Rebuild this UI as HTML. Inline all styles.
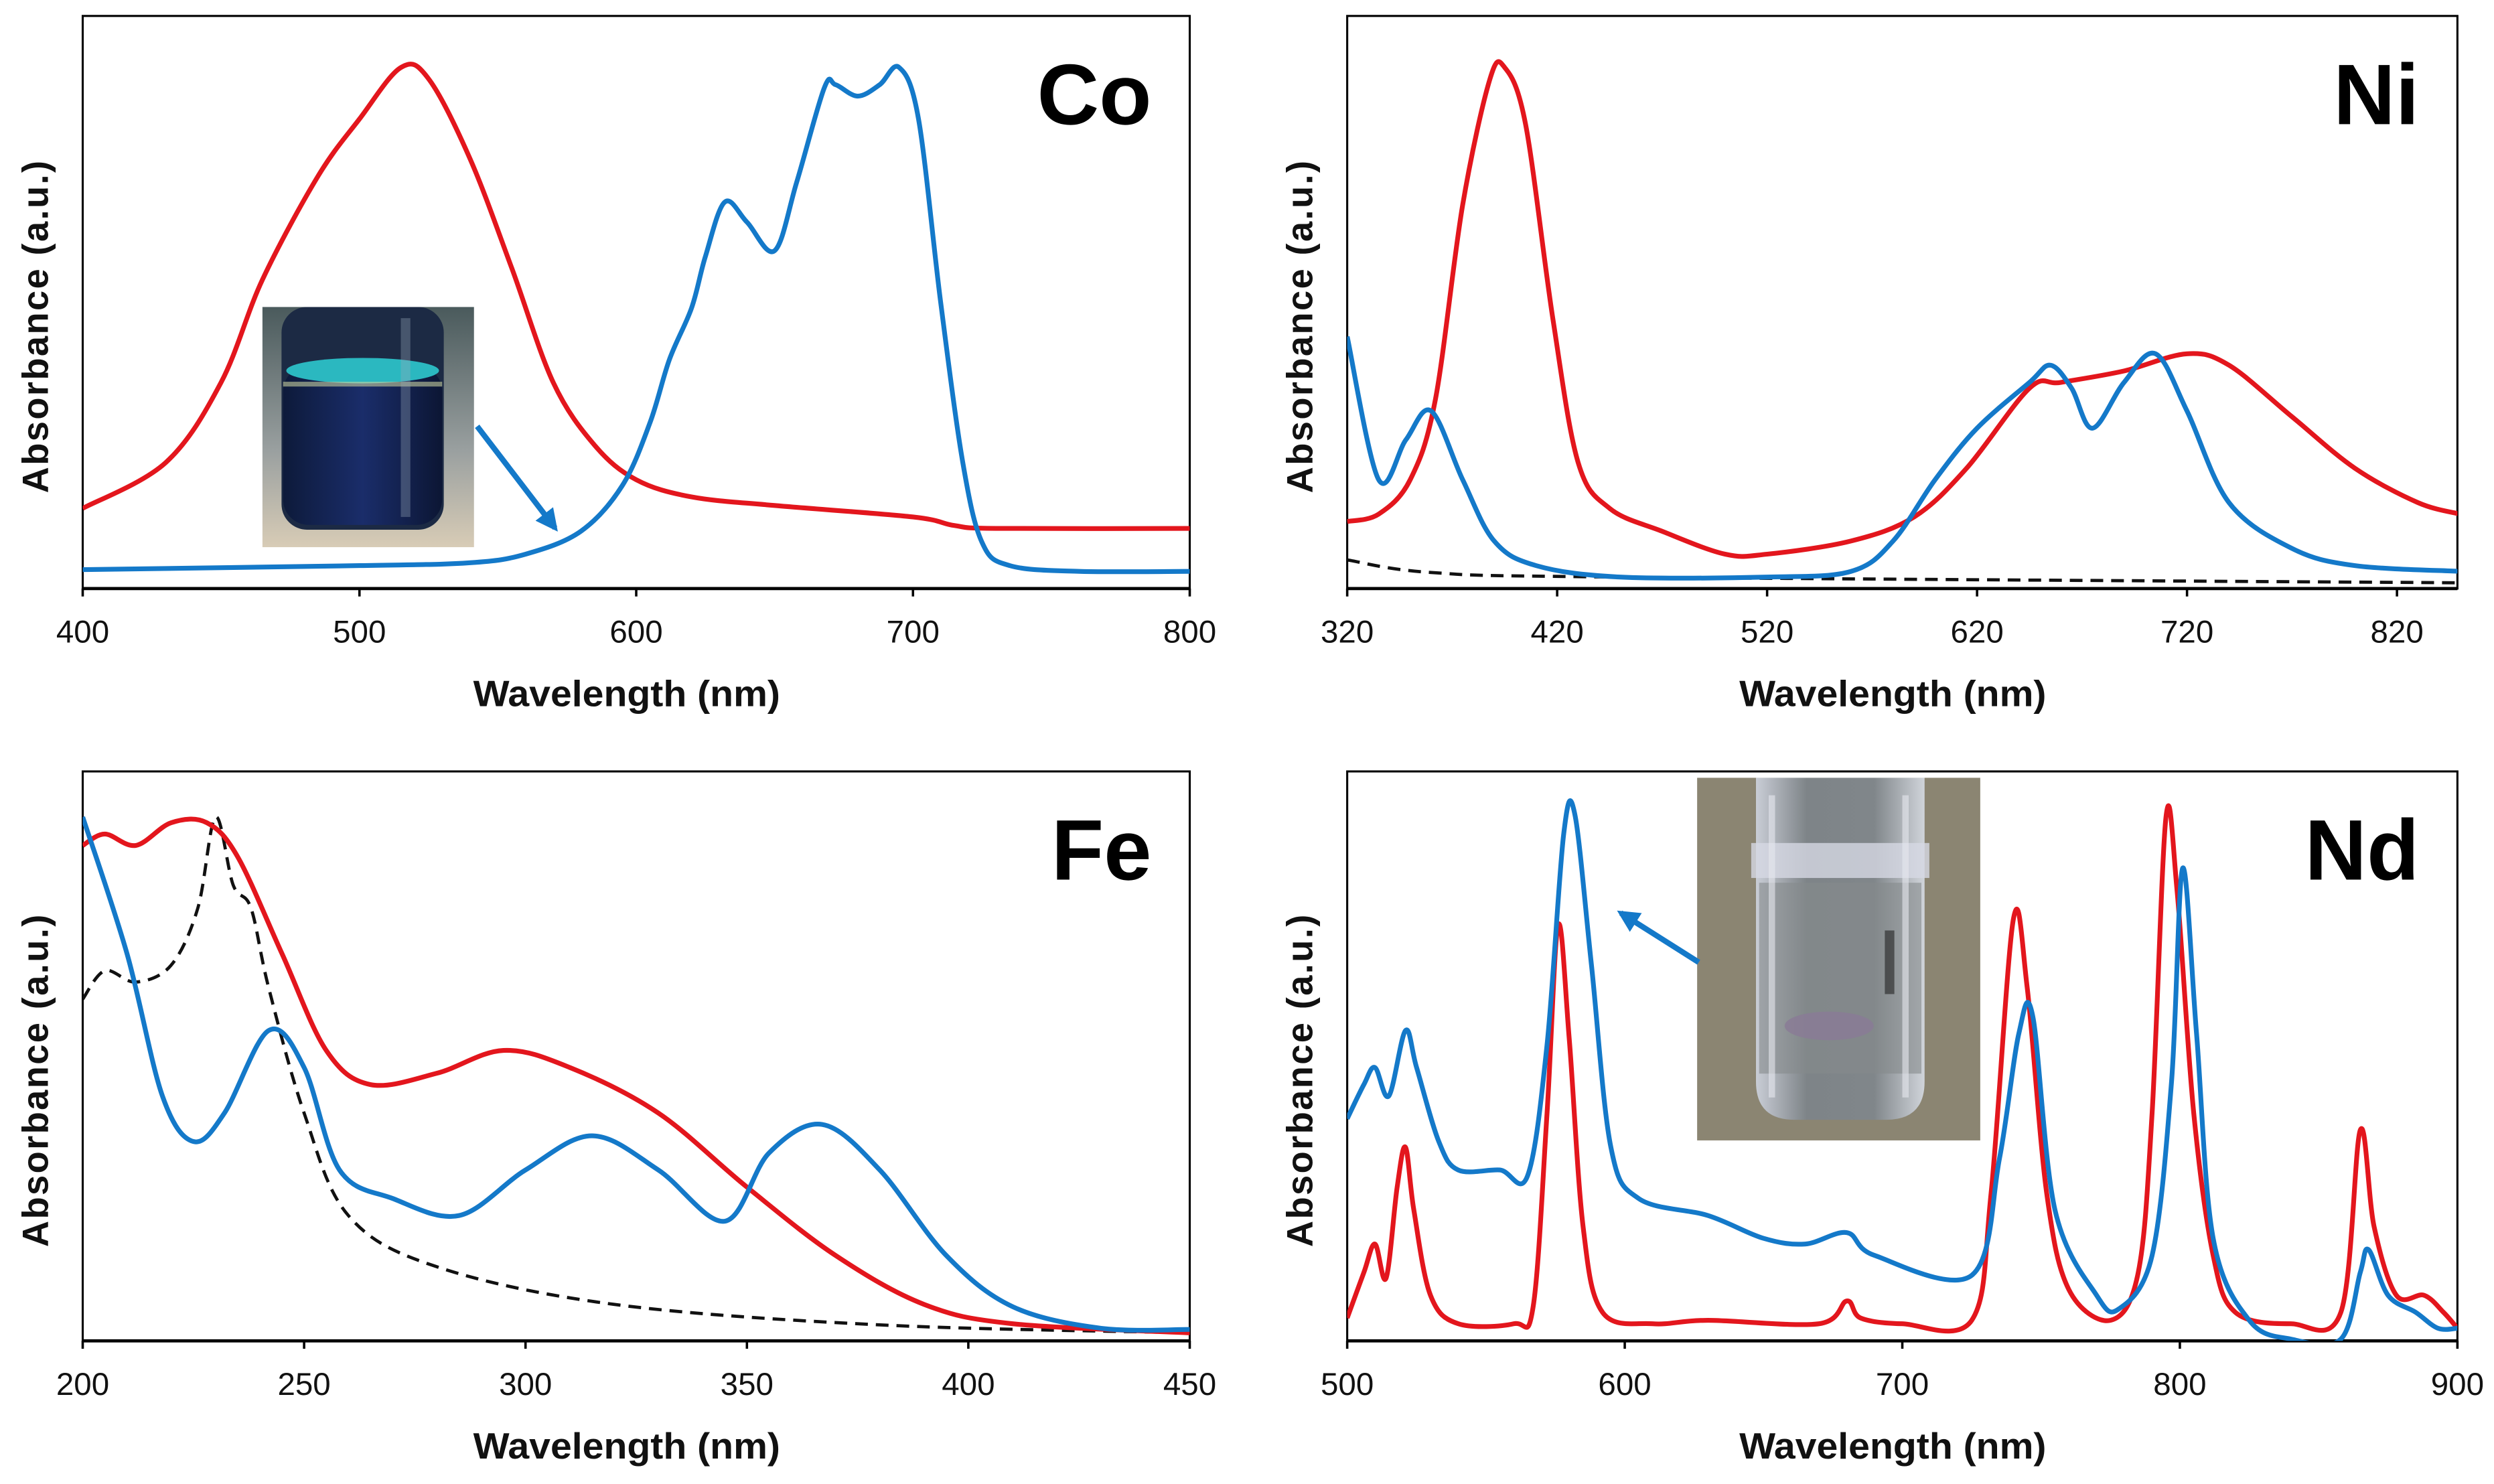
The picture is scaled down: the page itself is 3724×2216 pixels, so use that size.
<!DOCTYPE html>
<html><head><meta charset="utf-8">
<style>
html,body{margin:0;padding:0;background:#fff;}
svg{display:block;}
text{font-family:"Liberation Sans Narrow","Liberation Sans",sans-serif;}
.tick{font-size:20px;fill:#111;}
.ttl{font-size:23px;font-weight:bold;fill:#111;font-family:"Liberation Sans",sans-serif;}
.ytl{font-size:23px;font-weight:bold;fill:#111;font-family:"Liberation Sans",sans-serif;letter-spacing:1px;}
.big{font-size:54px;font-weight:bold;fill:#000;font-family:"Liberation Sans",sans-serif;}
</style></head>
<body>
<svg id="fig" width="3724" height="2216" viewBox="0 0 1568 933" xmlns="http://www.w3.org/2000/svg"></svg>
<script>
// ---- Co panel data ----
const coTicks=[400,500,600,700,800];
const coRedX=[400,430,450,465,485,500,515,525,540,555,570,585,600,620,650,700,715,730,800];
const coRedY=[.14,.22,.36,.54,.72,.82,.91,.89,.75,.56,.36,.25,.19,.16,.145,.125,.11,.105,.105];
const coBlueX=[400,500,540,560,580,595,605,612,620,625,632,640,650,658,668,672,680,688,695,702,710,718,725,735,760,800];
const coBlueY=[.033,.04,.045,.06,.10,.18,.29,.40,.49,.58,.675,.64,.59,.71,.875,.88,.86,.88,.91,.82,.50,.22,.08,.04,.03,.03];
// ---- Ni panel data ----
const niTicks=[320,420,520,620,720,820];
const niRedX=[320,335,350,362,375,388,395,405,418,430,445,470,500,520,560,590,615,645,660,690,720,740,770,800,830,850];
const niRedY=[.117,.13,.19,.33,.67,.89,.91,.81,.47,.22,.14,.10,.06,.06,.083,.125,.21,.35,.36,.38,.41,.39,.30,.21,.15,.13];
const niBlueX=[320,335,348,360,375,390,410,450,520,560,580,600,620,645,655,665,675,690,705,720,740,770,800,850];
const niBlueY=[.44,.19,.26,.31,.19,.083,.04,.02,.02,.03,.083,.19,.28,.36,.39,.35,.28,.36,.41,.31,.15,.07,.04,.03];
const niDashX=[320,360,450,850];
const niDashY=[.05,.028,.02,.01];
// ---- Fe panel data ----
const feTicks=[200,250,300,350,400,450];
const feRedX=[200,205,212,220,228,235,245,255,265,280,295,310,330,350,370,390,410,450];
const feRedY=[.87,.89,.87,.91,.91,.85,.68,.51,.45,.47,.51,.48,.40,.27,.15,.064,.03,.014];
const feBlueX=[200,210,218,225,232,242,250,258,270,285,300,315,330,345,355,367,380,395,410,430,450];
const feBlueY=[.92,.68,.43,.35,.40,.545,.48,.30,.25,.22,.30,.36,.30,.21,.33,.38,.30,.15,.06,.022,.02];
const feDashX=[200,205,212,220,226,230,234,238,242,250,260,280,320,380,450];
const feDashY=[.60,.65,.63,.66,.76,.92,.80,.76,.62,.40,.22,.13,.064,.028,.014];
// ---- Nd panel data ----
const ndTicks=[500,600,700,800,900];
const ndRedX=[500,506,510,514,518,521,524,530,540,560,567,572,576,580,585,592,610,630,670,680,685,700,725,732,740,745,752,760,775,785,790,795,799,805,812,820,840,858,865,870,878,888,895,900];
const ndRedY=[.04,.12,.17,.11,.27,.34,.23,.08,.03,.03,.06,.40,.73,.53,.20,.05,.03,.036,.03,.07,.04,.03,.036,.26,.74,.62,.26,.09,.036,.12,.40,.92,.79,.40,.15,.05,.03,.05,.37,.20,.08,.08,.05,.022];
const ndBlueX=[500,506,510,515,521,525,533,540,555,565,572,578,582,588,595,605,630,650,665,680,690,725,735,742,747,755,770,778,790,797,801,806,812,825,840,858,865,868,875,885,893,900];
const ndBlueY=[.39,.45,.48,.43,.545,.48,.35,.30,.30,.29,.52,.89,.925,.66,.34,.25,.22,.18,.17,.19,.15,.115,.32,.54,.57,.23,.08,.056,.15,.455,.83,.54,.18,.036,.003,.003,.12,.16,.08,.05,.022,.022];

const NS="http://www.w3.org/2000/svg";
const svg=document.getElementById('fig');
function mk(tag,attrs,parent){const e=document.createElementNS(NS,tag);for(const k in attrs)e.setAttribute(k,attrs[k]);(parent||svg).appendChild(e);return e;}
const RED="#e3161d",BLUE="#1479c9";
function smooth(pts){let d="M"+pts[0][0].toFixed(2)+","+pts[0][1].toFixed(2);
 for(let i=0;i<pts.length-1;i++){const p0=pts[Math.max(0,i-1)],p1=pts[i],p2=pts[i+1],p3=pts[Math.min(pts.length-1,i+2)];
  const c1=[p1[0]+(p2[0]-p0[0])/6,p1[1]+(p2[1]-p0[1])/6],c2=[p2[0]-(p3[0]-p1[0])/6,p2[1]-(p3[1]-p1[1])/6];
  d+=" C"+c1[0].toFixed(2)+","+c1[1].toFixed(2)+" "+c2[0].toFixed(2)+","+c2[1].toFixed(2)+" "+p2[0].toFixed(2)+","+p2[1].toFixed(2);}
 return d;}
function panel(name,L,R,T,B,xmin,xmax,ticks,label,series){
 const g=mk('g',{});
 
 
 const sx=v=>L+(v-xmin)/(xmax-xmin)*(R-L);
 const sy=v=>B-v*(B-T);
 const clipId='clip-'+name;
 const cp=mk('clipPath',{id:clipId},g);mk('rect',{x:L,y:T,width:R-L,height:B-T},cp);
 const box=mk('rect',{x:L,y:T,width:R-L,height:B-T,fill:'none',stroke:'#000','stroke-width':1.3},g);
 
 
 const ax=mk('line',{x1:L,x2:R,y1:B,y2:B,stroke:'#000','stroke-width':2},g);
 
 
 ticks.forEach(t=>{
  const tm=mk('line',{x1:sx(t),x2:sx(t),y1:B,y2:B+5,stroke:'#000','stroke-width':1.5},g);
  
  
  const tl=mk('text',{x:sx(t),y:B+34,'text-anchor':'middle',class:'tick'},g);tl.textContent=t;
  
  
 });
 const xt=mk('text',{x:(L+R)/2-6,y:B+74,'text-anchor':'middle',class:'ttl',textLength:193,lengthAdjust:'spacingAndGlyphs'},g);xt.textContent='Wavelength (nm)';
 
 
 const yx=L-22,yy=(T+B)/2+15;
 const yt=mk('text',{x:yx,y:yy,'text-anchor':'middle',class:'ytl',textLength:210,lengthAdjust:'spacingAndGlyphs',transform:`rotate(-90 ${yx} ${yy})`},g);yt.textContent='Absorbance (a.u.)';
 
 
 const lb=mk('text',{x:R-24,y:T+68,'text-anchor':'end',class:'big'},g);lb.textContent=label;
 
 
 const sg=mk('g',{'clip-path':`url(#${clipId})`},g);
 series.forEach(s=>{
  const pts=s.x.map((v,i)=>[sx(v),sy(s.y[i])]);
  const p=mk('path',{d:smooth(pts),fill:'none',stroke:s.c,'stroke-width':s.dash?2:3,'stroke-linejoin':'round'},sg);
  if(s.dash)p.setAttribute('stroke-dasharray','8,5');
  
  
 });
 return {g,sx,sy};
}
panel('co',52,748,10,370,400,800,coTicks,'Co',[{x:coRedX,y:coRedY,c:RED,n:'red'},{x:coBlueX,y:coBlueY,c:BLUE,n:'blue'}]);
panel('ni',847,1545,10,370,320,320+698/1.32,niTicks,'Ni',[{x:niDashX,y:niDashY,c:'#111',n:'dashed',dash:1},{x:niRedX,y:niRedY,c:RED,n:'red'},{x:niBlueX,y:niBlueY,c:BLUE,n:'blue'}]);
panel('fe',52,748,485,843,200,450,feTicks,'Fe',[{x:feDashX,y:feDashY,c:'#111',n:'dashed',dash:1},{x:feRedX,y:feRedY,c:RED,n:'red'},{x:feBlueX,y:feBlueY,c:BLUE,n:'blue'}]);
panel('nd',847,1545,485,843,500,900,ndTicks,'Nd',[{x:ndRedX,y:ndRedY,c:RED,n:'red'},{x:ndBlueX,y:ndBlueY,c:BLUE,n:'blue'}]);

const defs=mk('defs',{});
defs.innerHTML=`
<marker id="ah" viewBox="0 0 10 10" refX="8" refY="5" markerWidth="4" markerHeight="4" orient="auto"><path d="M0,0 L10,5 L0,10 z" fill="${BLUE}"/></marker>
<linearGradient id="coLiq" x1="0" y1="0" x2="1" y2="0"><stop offset="0" stop-color="#0d1a3a"/><stop offset=".5" stop-color="#1a2d6a"/><stop offset="1" stop-color="#0c1634"/></linearGradient>
<linearGradient id="coBg" x1="0" y1="0" x2="0" y2="1"><stop offset="0" stop-color="#4a5a5c"/><stop offset=".6" stop-color="#9aa0a0"/><stop offset="1" stop-color="#d8ccb6"/></linearGradient>
<linearGradient id="ndVial" x1="0" y1="0" x2="1" y2="0"><stop offset="0" stop-color="#c9cdd6"/><stop offset=".3" stop-color="#7e8488"/><stop offset=".7" stop-color="#80868a"/><stop offset="1" stop-color="#d0d4da"/></linearGradient>`;

const coP=mk('g',{});


coP.innerHTML=`<rect x="165" y="193" width="133" height="151" fill="url(#coBg)"/>
<rect x="177" y="193" width="102" height="140" rx="16" fill="#1c2a44"/>
<rect x="178" y="230" width="100" height="100" rx="16" fill="url(#coLiq)"/>
<ellipse cx="228" cy="233" rx="48" ry="8" fill="#2bb8c0"/>
<rect x="178" y="240" width="100" height="3" fill="#c8d0a0" opacity=".6"/>
<rect x="252" y="200" width="6" height="125" fill="#9ab" opacity=".35"/>`;
const a1=mk('line',{x1:300,y1:268,x2:349,y2:332,stroke:BLUE,'stroke-width':3.5,'marker-end':'url(#ah)'});



const ndP=mk('g',{});


ndP.innerHTML=`<rect x="1067" y="489" width="178" height="228" fill="#8b8572"/>
<path d="M1104,489 L1104,680 Q1104,704 1128,704 L1186,704 Q1210,704 1210,680 L1210,489 Z" fill="url(#ndVial)"/>
<rect x="1101" y="530" width="112" height="22" fill="#d6d8e4" opacity=".8"/>
<rect x="1106" y="555" width="102" height="120" fill="#868a8c" opacity=".6"/>
<ellipse cx="1150" cy="645" rx="28" ry="9" fill="#8a7a96" opacity=".8"/>
<rect x="1112" y="500" width="4" height="190" fill="#e6e8ee" opacity=".6"/>
<rect x="1196" y="500" width="4" height="190" fill="#e6e8ee" opacity=".6"/>
<rect x="1185" y="585" width="6" height="40" fill="#222" opacity=".6"/>`;
const a2=mk('line',{x1:1068,y1:605,x2:1019,y2:574,stroke:BLUE,'stroke-width':3.5,'marker-end':'url(#ah)'});


</script>
</body></html>
